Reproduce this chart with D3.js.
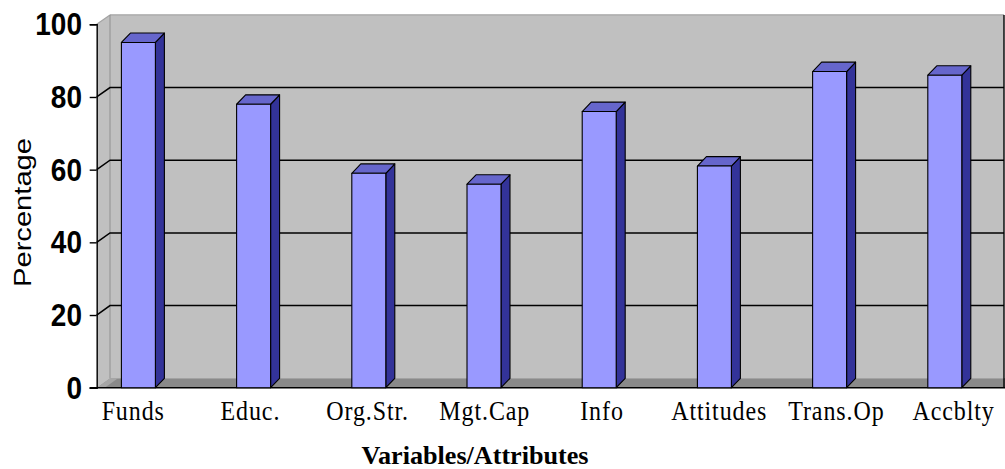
<!DOCTYPE html>
<html>
<head>
<meta charset="utf-8">
<script src="https://cdn.jsdelivr.net/npm/d3@7"></script>
<style>
  html, body { margin: 0; padding: 0; background: #fff; }
  svg { display: block; }
</style>
</head>
<body>
<svg id="chart" width="1005" height="469"></svg>
<script>
// Share of respondents citing each variable
const categories = ["Funds", "Educ.", "Org.Str.", "Mgt.Cap", "Info", "Attitudes", "Trans.Op", "Accblty"];
const values = [95, 78, 59, 56, 76, 61, 87, 86];
const yTicks = [0, 20, 40, 60, 80, 100];
const yTitle = "Percentage";
const xTitle = "Variables/Attributes";

const svg = d3.select("#chart");

// Plot geometry (pseudo-3D box)
const x0 = 96.7;          // front edge of the left wall / value axis
const xRight = 1004;      // right edge of the back wall
const wallDx = 13.3, wallDy = 9.4;   // depth of the box
const barDx = 9, barDy = 9.4;        // depth of each column

const y = d3.scaleLinear().domain([0, 100]).range([387.7, 24.3]);
const x = d3.scaleBand().domain(categories).range([80.8, 1002.4])
  .paddingInner(0.705).paddingOuter(0.3525);
const xLabel = d3.scalePoint().domain(categories).range([133.2, 953.6]);

const yBase = y(0), yTop = y(100);
const xBack = x0 + wallDx;

// Back wall
svg.append("rect")
  .attr("x", xBack).attr("y", yTop - wallDy)
  .attr("width", xRight - xBack).attr("height", yBase - yTop)
  .attr("fill", "#c0c0c0");
svg.append("line")
  .attr("x1", xBack).attr("x2", xRight)
  .attr("y1", yTop - wallDy).attr("y2", yTop - wallDy)
  .attr("stroke", "#a4a4a4").attr("stroke-width", 1.2);

// Left wall
svg.append("polygon")
  .attr("points", [[x0, yBase], [x0, yTop], [xBack, yTop - wallDy], [xBack, yBase - wallDy]].join(" "))
  .attr("fill", "#c0c0c0");
svg.append("line")
  .attr("x1", x0).attr("y1", yTop).attr("x2", xBack).attr("y2", yTop - wallDy)
  .attr("stroke", "#a4a4a4").attr("stroke-width", 1.2);
svg.append("line")
  .attr("x1", xBack).attr("x2", xBack)
  .attr("y1", yTop - wallDy).attr("y2", yBase - wallDy)
  .attr("stroke", "#909090").attr("stroke-width", 1);

// Gridlines on back and left walls
const grid = svg.append("g").attr("stroke", "#000").attr("stroke-width", 1.5).attr("fill", "none");
yTicks.filter(t => t > 0 && t < 100).forEach(t => {
  grid.append("polyline")
    .attr("points", [[x0, y(t)], [xBack, y(t) - wallDy], [xRight, y(t) - wallDy]].join(" "));
});

// Floor
svg.append("polygon")
  .attr("points", [[x0, yBase], [xBack, yBase - wallDy], [1005, yBase - wallDy], [1005, yBase]].join(" "))
  .attr("fill", "#8a8a8a");
svg.append("polygon")
  .attr("points", [[x0, yBase], [xBack, yBase - wallDy], [xBack + 8, yBase - wallDy], [x0 + 8, yBase]].join(" "))
  .attr("fill", "#a6a6a6");

// Right edge of the box
svg.append("line")
  .attr("x1", xRight).attr("x2", xRight)
  .attr("y1", yTop - wallDy).attr("y2", yBase)
  .attr("stroke", "#000").attr("stroke-width", 1.4);

// Value axis with ticks
const yAxis = d3.axisLeft(y).tickValues(yTicks).tickSize(7).tickFormat("");
svg.append("g")
  .attr("transform", `translate(${x0},0)`)
  .call(yAxis)
  .call(g => g.selectAll("path, line").attr("stroke", "#000").attr("stroke-width", 1.4));

// Floor front edge
svg.append("line")
  .attr("x1", x0 - 7).attr("x2", 1005)
  .attr("y1", yBase).attr("y2", yBase)
  .attr("stroke", "#000").attr("stroke-width", 1.6);

// Columns
const bars = svg.append("g").selectAll("g.bar")
  .data(categories.map((c, i) => ({ c, v: values[i] })))
  .join("g").attr("class", "bar")
  .attr("stroke", "#000").attr("stroke-width", 1.1).attr("stroke-linejoin", "round");

bars.each(function (d) {
  const g = d3.select(this);
  const xl = x(d.c), w = x.bandwidth(), yt = y(d.v);
  g.append("polygon")
    .attr("points", [[xl + w, yt], [xl + w + barDx, yt - barDy], [xl + w + barDx, yBase - barDy], [xl + w, yBase]].join(" "))
    .attr("fill", "#333399");
  g.append("polygon")
    .attr("points", [[xl, yt], [xl + barDx, yt - barDy], [xl + w + barDx, yt - barDy], [xl + w, yt]].join(" "))
    .attr("fill", "#6666cc");
  g.append("rect")
    .attr("x", xl).attr("y", yt).attr("width", w).attr("height", yBase - yt)
    .attr("fill", "#9999ff");
});

// Text helper: anchored, optionally stretched
function label(px, py, txt, opts) {
  const g = svg.append("g")
    .attr("transform", `translate(${px},${py}) rotate(${opts.rotate || 0}) scale(${opts.sx || 1},${opts.sy || 1})`);
  const t = g.append("text")
    .attr("x", 0).attr("y", 0)
    .attr("text-anchor", opts.anchor || "middle")
    .attr("font-family", opts.family)
    .attr("font-size", opts.size)
    .attr("font-weight", opts.weight || "normal")
    .attr("fill", "#000")
    .text(txt);
  if (opts.spacing) t.attr("letter-spacing", opts.spacing);
  if (opts.length) t.attr("textLength", opts.length).attr("lengthAdjust", "spacingAndGlyphs");
  return t;
}

// Tick labels
yTicks.forEach(t => {
  label(82, y(t) + 11, String(t), {
    anchor: "end", family: "'Liberation Sans', Arial, sans-serif",
    size: 28, weight: "bold", sy: 1.12
  });
});

// Category labels
categories.forEach(c => {
  label(xLabel(c), 420, c, {
    family: "'Liberation Serif', 'Times New Roman', serif",
    size: 24, spacing: 0.9, sy: 1.18
  });
});

// Axis titles
label(31, 212.5, yTitle, {
  family: "'Liberation Sans', Arial, sans-serif", size: 23,
  rotate: -90, length: 149
});
label(475, 464, xTitle, {
  family: "'Liberation Serif', 'Times New Roman', serif", size: 22,
  weight: "bold", sy: 1.15, length: 227
});
</script>
</body>
</html>
